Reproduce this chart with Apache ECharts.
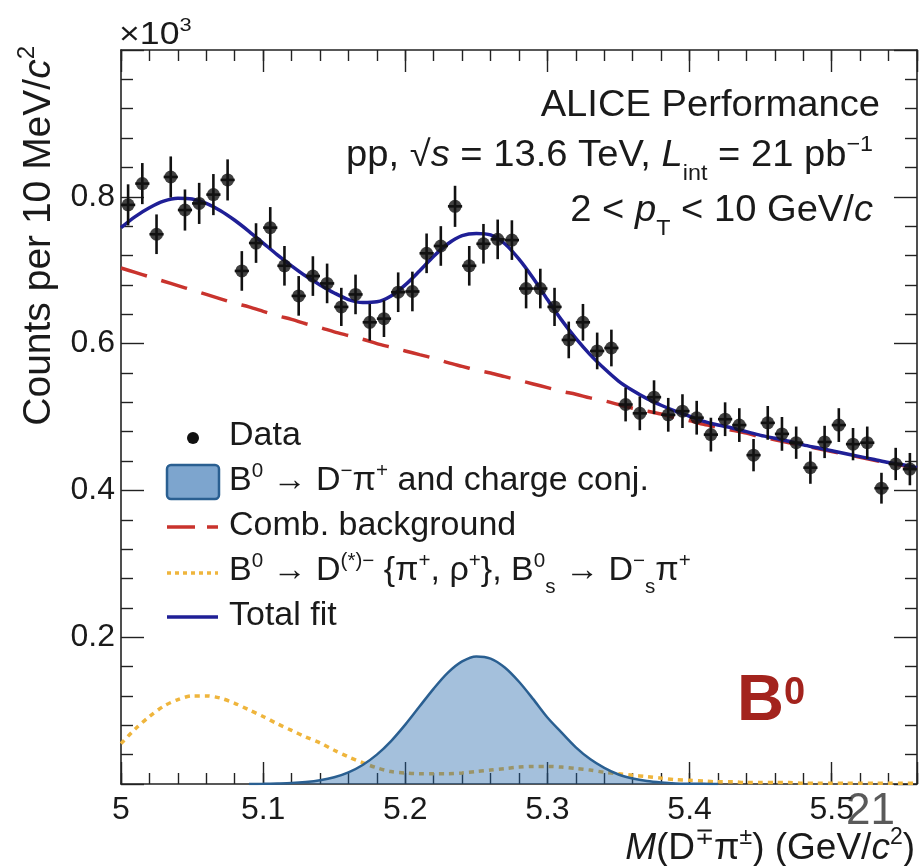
<!DOCTYPE html>
<html lang="en">
<head>
<meta charset="UTF-8">
<title>B0 invariant mass</title>
<script src="https://cdn.jsdelivr.net/npm/echarts@6/dist/echarts.min.js"></script>
<style>
  html, body { margin: 0; padding: 0; background: #fff; }
</style>
</head>
<body>
<div id="main" style="width: 920px; height: 866px;"></div>
<script>
// ---- data (counts in units of 10^3 per 10 MeV/c^2) ----
var massBins = [5.005, 5.015, 5.025, 5.035, 5.045, 5.055, 5.065, 5.075, 5.085, 5.095,
    5.105, 5.115, 5.125, 5.135, 5.145, 5.155, 5.165, 5.175, 5.185, 5.195,
    5.205, 5.215, 5.225, 5.235, 5.245, 5.255, 5.265, 5.275, 5.285, 5.295,
    5.305, 5.315, 5.325, 5.335, 5.345, 5.355, 5.365, 5.375, 5.385, 5.395,
    5.405, 5.415, 5.425, 5.435, 5.445, 5.455, 5.465, 5.475, 5.485, 5.495,
    5.505, 5.515, 5.525, 5.535, 5.545, 5.555]
var counts = [0.789, 0.818, 0.749, 0.827, 0.782, 0.791, 0.803, 0.823, 0.699, 0.737,
    0.758, 0.706, 0.665, 0.692, 0.682, 0.650, 0.667, 0.629, 0.634, 0.670,
    0.671, 0.723, 0.733, 0.787, 0.706, 0.736, 0.742, 0.741, 0.675, 0.675,
    0.650, 0.605, 0.629, 0.590, 0.594, 0.517, 0.505, 0.527, 0.503, 0.508,
    0.499, 0.476, 0.497, 0.489, 0.448, 0.492, 0.477, 0.465, 0.431, 0.466,
    0.489, 0.463, 0.465, 0.403, 0.436, 0.429]
var countErr = [0.028, 0.028, 0.027, 0.028, 0.028, 0.028, 0.028, 0.028, 0.027, 0.027,
    0.028, 0.027, 0.027, 0.027, 0.027, 0.026, 0.027, 0.025, 0.025, 0.027,
    0.027, 0.027, 0.027, 0.028, 0.027, 0.027, 0.027, 0.027, 0.027, 0.027,
    0.026, 0.025, 0.025, 0.025, 0.025, 0.023, 0.023, 0.023, 0.023, 0.023,
    0.023, 0.023, 0.023, 0.023, 0.022, 0.023, 0.023, 0.022, 0.022, 0.022,
    0.023, 0.022, 0.022, 0.021, 0.022, 0.022]

var fitMass = [5.00, 5.01, 5.02, 5.03, 5.04, 5.05, 5.06, 5.07, 5.08, 5.09,
    5.10, 5.11, 5.12, 5.13, 5.14, 5.15, 5.16, 5.17, 5.18, 5.19,
    5.20, 5.21, 5.22, 5.23, 5.24, 5.25, 5.26, 5.27, 5.28, 5.29,
    5.30, 5.31, 5.32, 5.33, 5.34, 5.35, 5.36, 5.37, 5.38, 5.39,
    5.40, 5.41, 5.42, 5.43, 5.44, 5.45, 5.46, 5.47, 5.48, 5.49,
    5.50, 5.51, 5.52, 5.53, 5.54, 5.55, 5.56]
var totalFit = [0.758, 0.773, 0.785, 0.794, 0.798, 0.797, 0.791, 0.781, 0.768, 0.753,
    0.737, 0.721, 0.706, 0.692, 0.680, 0.669, 0.660, 0.656, 0.657, 0.665,
    0.680, 0.699, 0.719, 0.736, 0.747, 0.750, 0.748, 0.736, 0.715, 0.689,
    0.660, 0.632, 0.607, 0.585, 0.566, 0.549, 0.536, 0.525, 0.516, 0.508,
    0.501, 0.494, 0.489, 0.485, 0.480, 0.475, 0.471, 0.467, 0.462, 0.458,
    0.454, 0.450, 0.446, 0.442, 0.438, 0.435, 0.431]
var combBkg = [0.703, 0.697, 0.691, 0.685, 0.679, 0.673, 0.667, 0.661, 0.655, 0.650,
    0.644, 0.638, 0.633, 0.627, 0.622, 0.616, 0.611, 0.606, 0.600, 0.595,
    0.590, 0.585, 0.580, 0.574, 0.569, 0.564, 0.560, 0.555, 0.550, 0.545,
    0.540, 0.535, 0.531, 0.526, 0.522, 0.517, 0.512, 0.508, 0.504, 0.499,
    0.495, 0.490, 0.486, 0.482, 0.478, 0.473, 0.469, 0.465, 0.461, 0.457,
    0.453, 0.449, 0.445, 0.441, 0.437, 0.434, 0.430]
var otherB = [0.055, 0.075, 0.092, 0.106, 0.115, 0.120, 0.120, 0.117, 0.110, 0.101,
    0.092, 0.082, 0.073, 0.064, 0.056, 0.046, 0.037, 0.029, 0.022, 0.017,
    0.015, 0.014, 0.014, 0.014, 0.015, 0.017, 0.019, 0.021, 0.023, 0.024,
    0.024, 0.023, 0.021, 0.019, 0.016, 0.014, 0.012, 0.010, 0.008, 0.006,
    0.005, 0.004, 0.003, 0.003, 0.002, 0.002, 0.002, 0.002, 0.001, 0.001,
    0.001, 0.001, 0.001, 0.001, 0.001, 0.001, 0.001]

var sigMass = [5.09, 5.10, 5.11, 5.12, 5.13, 5.14, 5.15, 5.16, 5.17, 5.18,
    5.19, 5.20, 5.21, 5.22, 5.23, 5.24, 5.25, 5.26, 5.27, 5.28,
    5.29, 5.30, 5.31, 5.32, 5.33, 5.34, 5.35, 5.36, 5.37, 5.38,
    5.39, 5.40, 5.41, 5.42]
var signal = [0.0001, 0.0002, 0.0006, 0.0012, 0.0026, 0.0050, 0.0091, 0.0158, 0.0259, 0.040,
    0.0585, 0.0809, 0.1055, 0.130, 0.1517, 0.167, 0.1738, 0.1709, 0.1587, 0.1393,
    0.1156, 0.0906, 0.070, 0.050, 0.034, 0.022, 0.013, 0.0075, 0.004, 0.002,
    0.0008, 0.0004, 0.0002, 0.0001]

var FONT = "'Liberation Sans', Arial, Helvetica, sans-serif"
var INK = '#1a1a1a'

function zip(xs, ys) {
    return xs.map(function (x, i) { return [x, ys[i]] })
}

// rich text styles: normal, italic, superscript, subscript
function richFor(s) {
    var base = { fontSize: s, fontFamily: FONT, fill: INK, lineHeight: 1.6 * s, verticalAlign: 'middle' }
    var small = Math.round(0.62 * s)
    return {
        n: base,
        i: Object.assign({}, base, { fontStyle: 'italic' }),
        sup: { fontSize: small, fontFamily: FONT, fill: INK, verticalAlign: 'top', padding: [Math.round(0.2 * s), 0, 0, 0] },
        sub: { fontSize: small, fontFamily: FONT, fill: INK, verticalAlign: 'bottom' }
    }
}

function txt(x, y, text, size, align, extra) {
    var el = {
        type: 'text', x: x, y: y,
        style: {
            text: text, rich: richFor(size), fontSize: size, fontFamily: FONT, fill: INK,
            lineHeight: 1.6 * size, align: align || 'left', verticalAlign: 'middle'
        }
    }
    return Object.assign(el, extra || {})
}

var myChart = echarts.init(document.getElementById('main'))

var axisLineStyle = { color: '#222', width: 1.6 }
var tickStyle = { color: '#222', width: 1.4 }

var option = {
    animation: false,
    backgroundColor: '#fff',
    grid: { left: 121, right: 2, top: 50, bottom: 82 },
    xAxis: [
        {   // bottom, major ticks + labels
            type: 'value', position: 'bottom', min: 5, max: 5.56, interval: 0.1,
            axisLine: { show: true, lineStyle: axisLineStyle },
            axisTick: { inside: true, length: 22, lineStyle: tickStyle },
            axisLabel: {
                fontSize: 32, fontFamily: FONT, color: INK, margin: 10,
                formatter: function (v) {
                    var r = Math.round(v * 10) / 10
                    return (Math.abs(v - r) < 1e-6 && r < 5.55) ? String(r) : ''
                }
            },
            splitLine: { show: false }
        },
        {   // bottom, minor ticks
            type: 'value', position: 'bottom', min: 5, max: 5.56, interval: 0.02,
            axisLine: { show: false },
            axisTick: { inside: true, length: 11, lineStyle: tickStyle },
            axisLabel: { show: false },
            splitLine: { show: false }
        },
        {   // top, major
            type: 'value', position: 'top', min: 5, max: 5.56, interval: 0.1,
            axisLine: { show: true, lineStyle: axisLineStyle },
            axisTick: { inside: true, length: 22, lineStyle: tickStyle },
            axisLabel: { show: false },
            splitLine: { show: false }
        },
        {   // top, minor
            type: 'value', position: 'top', min: 5, max: 5.56, interval: 0.02,
            axisLine: { show: false },
            axisTick: { inside: true, length: 11, lineStyle: tickStyle },
            axisLabel: { show: false },
            splitLine: { show: false }
        }
    ],
    yAxis: [
        {
            type: 'value', position: 'left', min: 0, max: 1, interval: 0.2,
            axisLine: { show: true, lineStyle: axisLineStyle },
            axisTick: { inside: true, length: 23, lineStyle: tickStyle },
            minorTick: { show: true, splitNumber: 5, length: 12, lineStyle: tickStyle },
            axisLabel: {
                fontSize: 32, fontFamily: FONT, color: INK, margin: 6,
                formatter: function (v) { return (v > 0.01 && v < 0.99) ? v.toFixed(1) : '' }
            },
            splitLine: { show: false }, minorSplitLine: { show: false }
        },
        {
            type: 'value', position: 'right', min: 0, max: 1, interval: 0.2,
            axisLine: { show: true, lineStyle: axisLineStyle },
            axisTick: { inside: true, length: 23, lineStyle: tickStyle },
            minorTick: { show: true, splitNumber: 5, length: 12, lineStyle: tickStyle },
            axisLabel: { show: false },
            splitLine: { show: false }, minorSplitLine: { show: false }
        }
    ],
    series: [
        {   // other B decays, dotted
            name: 'otherB', type: 'line', data: zip(fitMass, otherB),
            symbol: 'none', smooth: 0.3, z: 2,
            lineStyle: { color: '#efb53c', width: 3.5, type: [5, 5] }
        },
        {   // signal
            name: 'signal', type: 'line', data: zip(sigMass, signal),
            symbol: 'none', smooth: 0.3, z: 3,
            lineStyle: { color: '#2a5f91', width: 2.5 },
            areaStyle: { color: 'rgba(31,100,170,0.58)', origin: 'start' }
        },
        {   // combinatorial background
            name: 'bkg', type: 'line', data: zip(fitMass, combBkg),
            symbol: 'none', smooth: 0.3, z: 4,
            lineStyle: { color: '#c9332d', width: 3.5, type: [27, 15] }
        },
        {   // total fit
            name: 'total', type: 'line', data: zip(fitMass, totalFit),
            symbol: 'none', smooth: 0.3, z: 5,
            lineStyle: { color: '#1f1f96', width: 3.5 }
        },
        {   // error bars
            name: 'err', type: 'custom', z: 6,
            data: massBins.map(function (m, i) { return [m, counts[i], countErr[i]] }),
            renderItem: function (params, api) {
                var x = api.value(0), y = api.value(1), e = api.value(2)
                var lo = api.coord([x, y - e]), hi = api.coord([x, y + e])
                var l = api.coord([x - 0.005, y]), r = api.coord([x + 0.005, y])
                var st = { stroke: '#111', lineWidth: 2.6 }
                return {
                    type: 'group', children: [
                        { type: 'line', shape: { x1: lo[0], y1: lo[1], x2: hi[0], y2: hi[1] }, style: st },
                        { type: 'line', shape: { x1: l[0], y1: l[1], x2: r[0], y2: r[1] }, style: st }
                    ]
                }
            }
        },
        {   // data points
            name: 'Data', type: 'scatter', z: 7,
            data: zip(massBins, counts),
            symbol: 'circle', symbolSize: 13,
            itemStyle: { color: '#111' }
        }
    ],
    graphic: [
        // axis multiplier and titles
        txt(119, 35, '{n|×10}{sup|3}', 31, 'left', { scaleX: 1.15 }),
        txt(39, 46, '{n|Counts per 10 MeV/}{i|c}{sup|2}', 39, 'right', { rotation: Math.PI / 2 }),
        txt(915, 849, '{i|M}{n|(D}{sup|∓}{n|π}{sup|±}{n|) (GeV/}{i|c}{sup|2}{n|)}', 37, 'right'),
        // ALICE text block
        txt(880, 106, '{n|ALICE Performance}', 36, 'right', { scaleX: 1.06 }),
        txt(873, 156, '{n|pp, √}{i|s}{n| = 13.6 TeV, }{i|L}{sub|int}{n| = 21 pb}{sup|−1}', 36, 'right', { scaleX: 1.06 }),
        txt(873, 211, '{n|2 < }{i|p}{sub|T}{n| < 10 GeV/}{i|c}', 36, 'right', { scaleX: 1.06 }),
        // legend
        { type: 'circle', shape: { cx: 193, cy: 438, r: 6 }, style: { fill: '#111' } },
        txt(229, 436, '{n|Data}', 33, 'left', { scaleX: 1.03 }),
        { type: 'rect', shape: { x: 167, y: 465, width: 52, height: 34, r: 4 },
          style: { fill: 'rgba(31,100,170,0.58)', stroke: '#2a5f91', lineWidth: 2.5 } },
        txt(229, 481, '{n|B}{sup|0}{n| → D}{sup|−}{n|π}{sup|+}{n| and charge conj.}', 33, 'left', { scaleX: 1.03 }),
        { type: 'line', shape: { x1: 167, y1: 527, x2: 218, y2: 527 },
          style: { stroke: '#c9332d', lineWidth: 3.5, lineDash: [28, 12] } },
        txt(229, 526, '{n|Comb. background}', 33, 'left', { scaleX: 1.03 }),
        { type: 'line', shape: { x1: 167, y1: 573, x2: 218, y2: 573 },
          style: { stroke: '#efb53c', lineWidth: 3.5, lineDash: [4, 4] } },
        txt(229, 571, '{n|B}{sup|0}{n| → D}{sup|(*)−}{n| {π}{sup|+}{n|, ρ}{sup|+}}{n|, B}{sup|0}{sub|s}{n| → D}{sup|−}{sub|s}{n|π}{sup|+}', 33, 'left', { scaleX: 1.03 }),
        { type: 'line', shape: { x1: 167, y1: 617, x2: 218, y2: 617 },
          style: { stroke: '#1f1f96', lineWidth: 3.5 } },
        txt(229, 616, '{n|Total fit}', 33, 'left', { scaleX: 1.03 }),
        // particle tag
        {
            type: 'text', x: 737, y: 702,
            style: {
                text: '{b|B}{s|0}', verticalAlign: 'middle', align: 'left',
                rich: {
                    b: { fontSize: 65, fontWeight: 'bold', fontFamily: FONT, fill: '#a3231d', lineHeight: 80, verticalAlign: 'middle' },
                    s: { fontSize: 38, fontWeight: 'bold', fontFamily: FONT, fill: '#a3231d', verticalAlign: 'top', padding: [13, 0, 0, 0] }
                }
            }
        },
        // slide number
        { type: 'text', x: 846, y: 812, style: { text: '21', fontSize: 44, fontFamily: FONT, fill: '#5a5a5a', verticalAlign: 'middle' } }
    ]
}
myChart.setOption(option)
</script>
</body>
</html>
